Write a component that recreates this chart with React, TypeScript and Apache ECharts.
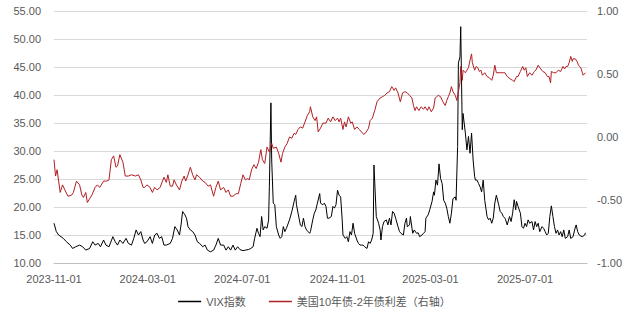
import React, { useEffect, useRef } from "react";
import * as echarts from "echarts";

// ---- data ----
const axisStart = "2023-11-01";
const axisEnd = "2025-09-19";
const xTickLabels = ["2023-11-01", "2024-03-01", "2024-07-01", "2024-11-01", "2025-03-01", "2025-07-01"];
const leftTicks = { min: 10, max: 55, interval: 5 };
const rightTicks = { min: -1, max: 1, interval: 0.5 };
const legendNames = ["VIX指数", "美国10年债-2年债利差（右轴）"];

const vixPoints: [string, number][] = [
  ["2023-11-01",17.1],["2023-11-04",15.6],["2023-11-07",15.0],["2023-11-10",14.7],["2023-11-13",14.4],["2023-11-17",13.8],
  ["2023-11-22",13.2],["2023-11-25",12.6],["2023-11-29",12.9],["2023-12-04",13.2],["2023-12-08",12.9],["2023-12-12",12.3],
  ["2023-12-17",12.6],["2023-12-21",13.8],["2023-12-24",13.2],["2023-12-28",13.5],["2023-12-31",12.9],["2024-01-04",14.1],
  ["2024-01-07",13.2],["2024-01-11",12.9],["2024-01-16",14.7],["2024-01-19",13.8],["2024-01-22",13.2],["2024-01-25",14.1],
  ["2024-01-29",13.5],["2024-02-02",14.4],["2024-02-05",13.5],["2024-02-09",13.2],["2024-02-12",14.4],["2024-02-15",15.9],
  ["2024-02-18",15.0],["2024-02-21",15.6],["2024-02-24",14.1],["2024-02-26",13.5],["2024-02-29",13.8],["2024-03-04",14.7],
  ["2024-03-07",13.5],["2024-03-10",15.0],["2024-03-13",15.3],["2024-03-16",14.4],["2024-03-19",14.7],["2024-03-22",13.2],
  ["2024-03-25",13.2],["2024-03-30",13.5],["2024-04-02",14.4],["2024-04-05",16.5],["2024-04-08",15.9],["2024-04-11",15.0],
  ["2024-04-13",16.8],["2024-04-15",19.2],["2024-04-18",18.6],["2024-04-20",18.0],["2024-04-22",16.5],["2024-04-25",15.9],
  ["2024-04-28",15.6],["2024-05-01",15.0],["2024-05-04",13.8],["2024-05-07",13.5],["2024-05-11",12.9],["2024-05-14",13.2],
  ["2024-05-17",12.3],["2024-05-21",12.0],["2024-05-25",12.3],["2024-05-28",13.2],["2024-05-31",14.4],["2024-06-03",13.2],
  ["2024-06-07",13.2],["2024-06-10",12.3],["2024-06-13",12.9],["2024-06-16",12.3],["2024-06-19",13.2],["2024-06-22",12.3],
  ["2024-06-25",12.9],["2024-06-28",12.4],["2024-07-02",12.2],["2024-07-05",12.3],["2024-07-09",12.4],["2024-07-12",12.6],
  ["2024-07-15",12.9],["2024-07-17",14.4],["2024-07-20",16.2],["2024-07-22",15.3],["2024-07-24",14.7],["2024-07-26",18.3],
  ["2024-07-28",15.9],["2024-07-30",16.5],["2024-08-02",16.2],["2024-08-04",17.7],["2024-08-05",23.6],["2024-08-07",38.6],
  ["2024-08-08",28.4],["2024-08-10",20.7],["2024-08-12",20.4],["2024-08-14",16.5],["2024-08-17",15.0],["2024-08-19",14.4],
  ["2024-08-21",14.7],["2024-08-23",16.5],["2024-08-25",15.6],["2024-08-27",16.2],["2024-08-31",17.7],["2024-09-03",19.2],
  ["2024-09-06",21.0],["2024-09-08",22.1],["2024-09-09",20.4],["2024-09-11",18.9],["2024-09-14",16.8],["2024-09-16",16.5],
  ["2024-09-18",18.0],["2024-09-20",16.5],["2024-09-22",15.9],["2024-09-26",15.3],["2024-09-27",15.6],["2024-09-30",17.7],
  ["2024-10-02",18.9],["2024-10-04",19.5],["2024-10-06",20.7],["2024-10-09",22.4],["2024-10-10",20.7],["2024-10-13",20.4],
  ["2024-10-15",20.7],["2024-10-17",20.1],["2024-10-19",18.0],["2024-10-21",18.0],["2024-10-24",18.3],["2024-10-26",20.1],
  ["2024-10-28",19.8],["2024-10-30",20.4],["2024-11-01",23.0],["2024-11-03",22.1],["2024-11-05",21.8],["2024-11-07",17.7],
  ["2024-11-08",15.0],["2024-11-11",14.4],["2024-11-13",14.7],["2024-11-15",13.8],["2024-11-17",15.6],["2024-11-19",15.0],
  ["2024-11-21",17.1],["2024-11-23",15.3],["2024-11-26",14.1],["2024-11-28",13.5],["2024-11-30",13.2],["2024-12-02",13.2],
  ["2024-12-04",13.2],["2024-12-06",12.9],["2024-12-09",12.6],["2024-12-11",13.8],["2024-12-13",13.5],["2024-12-15",14.1],
  ["2024-12-17",15.3],["2024-12-18",27.5],["2024-12-21",18.3],["2024-12-24",17.1],["2024-12-26",15.9],["2024-12-27",14.1],
  ["2024-12-29",16.5],["2024-12-31",17.4],["2025-01-03",17.7],["2025-01-05",16.8],["2025-01-07",18.0],["2025-01-09",16.8],
  ["2025-01-11",19.2],["2025-01-13",18.9],["2025-01-15",18.0],["2025-01-18",16.5],["2025-01-20",15.6],["2025-01-22",15.3],
  ["2025-01-25",15.0],["2025-01-27",17.1],["2025-01-29",18.0],["2025-01-30",16.5],["2025-02-02",16.8],["2025-02-03",18.3],
  ["2025-02-06",15.3],["2025-02-08",15.9],["2025-02-11",15.3],["2025-02-13",15.4],["2025-02-15",14.7],["2025-02-18",15.0],
  ["2025-02-20",15.3],["2025-02-22",15.6],["2025-02-23",18.0],["2025-02-26",18.6],["2025-02-28",19.5],["2025-03-03",21.0],
  ["2025-03-05",22.7],["2025-03-06",22.1],["2025-03-08",24.8],["2025-03-10",23.9],["2025-03-12",27.7],["2025-03-14",25.1],
  ["2025-03-16",24.2],["2025-03-18",21.2],["2025-03-20",20.7],["2025-03-22",19.8],["2025-03-24",18.3],["2025-03-26",17.1],
  ["2025-03-28",18.9],["2025-03-30",21.5],["2025-04-02",21.8],["2025-04-03",21.2],["2025-04-05",30.8],["2025-04-06",45.7],
  ["2025-04-08",46.8],["2025-04-09",52.2],["2025-04-11",33.8],["2025-04-12",36.7],["2025-04-15",33.2],["2025-04-17",30.2],
  ["2025-04-19",32.6],["2025-04-21",29.6],["2025-04-23",33.2],["2025-04-25",28.4],["2025-04-27",25.4],["2025-04-28",24.8],
  ["2025-04-30",24.8],["2025-05-02",24.2],["2025-05-04",23.6],["2025-05-06",22.7],["2025-05-08",24.8],["2025-05-10",21.2],
  ["2025-05-13",18.3],["2025-05-15",17.7],["2025-05-17",18.0],["2025-05-19",17.1],["2025-05-21",18.0],["2025-05-23",20.7],
  ["2025-05-25",22.1],["2025-05-28",20.4],["2025-05-30",19.2],["2025-06-01",18.9],["2025-06-03",18.3],["2025-06-05",18.0],
  ["2025-06-06",17.7],["2025-06-08",16.8],["2025-06-11",18.3],["2025-06-13",17.4],["2025-06-15",18.9],["2025-06-17",21.3],
  ["2025-06-19",19.5],["2025-06-20",21.0],["2025-06-22",20.1],["2025-06-25",18.9],["2025-06-27",16.5],["2025-06-29",16.2],
  ["2025-07-01",17.1],["2025-07-03",16.5],["2025-07-05",17.7],["2025-07-07",17.1],["2025-07-10",17.4],["2025-07-12",15.9],
  ["2025-07-14",17.4],["2025-07-16",16.5],["2025-07-18",17.1],["2025-07-20",15.6],["2025-07-23",16.5],["2025-07-25",16.2],
  ["2025-07-27",15.6],["2025-07-29",15.0],["2025-07-31",15.3],["2025-08-02",18.3],["2025-08-04",20.2],["2025-08-06",18.3],
  ["2025-08-08",16.5],["2025-08-10",15.3],["2025-08-12",15.9],["2025-08-14",15.0],["2025-08-16",15.6],["2025-08-18",14.7],
  ["2025-08-20",15.9],["2025-08-22",14.4],["2025-08-25",14.7],["2025-08-27",15.9],["2025-08-29",14.4],["2025-09-01",14.7],
  ["2025-09-03",15.9],["2025-09-05",16.8],["2025-09-07",15.6],["2025-09-09",15.0],["2025-09-11",14.8],["2025-09-13",14.7],
  ["2025-09-16",15.0],["2025-09-17",15.4],
];

const spreadPoints: [string, number][] = [
  ["2023-11-01",-0.18],["2023-11-03",-0.31],["2023-11-05",-0.26],["2023-11-09",-0.44],["2023-11-12",-0.38],["2023-11-15",-0.42],
  ["2023-11-19",-0.47],["2023-11-24",-0.46],["2023-11-26",-0.44],["2023-11-30",-0.35],["2023-12-04",-0.38],["2023-12-07",-0.46],
  ["2023-12-09",-0.48],["2023-12-12",-0.44],["2023-12-14",-0.52],["2023-12-17",-0.49],["2023-12-20",-0.46],["2023-12-24",-0.40],
  ["2023-12-27",-0.38],["2023-12-30",-0.40],["2024-01-04",-0.35],["2024-01-08",-0.35],["2024-01-11",-0.34],["2024-01-14",-0.18],
  ["2024-01-17",-0.15],["2024-01-20",-0.24],["2024-01-22",-0.23],["2024-01-25",-0.14],["2024-01-29",-0.20],["2024-02-01",-0.31],
  ["2024-02-05",-0.31],["2024-02-09",-0.30],["2024-02-14",-0.31],["2024-02-18",-0.30],["2024-02-21",-0.34],["2024-02-24",-0.40],
  ["2024-02-26",-0.40],["2024-02-29",-0.38],["2024-03-04",-0.40],["2024-03-07",-0.44],["2024-03-10",-0.40],["2024-03-13",-0.42],
  ["2024-03-17",-0.40],["2024-03-20",-0.35],["2024-03-22",-0.32],["2024-03-25",-0.36],["2024-03-27",-0.30],["2024-03-30",-0.39],
  ["2024-04-02",-0.39],["2024-04-04",-0.34],["2024-04-07",-0.38],["2024-04-11",-0.42],["2024-04-14",-0.35],["2024-04-17",-0.31],
  ["2024-04-19",-0.35],["2024-04-22",-0.30],["2024-04-25",-0.24],["2024-04-28",-0.30],["2024-05-01",-0.34],["2024-05-03",-0.30],
  ["2024-05-07",-0.32],["2024-05-11",-0.35],["2024-05-14",-0.36],["2024-05-18",-0.39],["2024-05-21",-0.38],["2024-05-25",-0.47],
  ["2024-05-28",-0.40],["2024-05-31",-0.35],["2024-06-03",-0.42],["2024-06-07",-0.40],["2024-06-10",-0.44],["2024-06-13",-0.42],
  ["2024-06-16",-0.47],["2024-06-19",-0.47],["2024-06-23",-0.45],["2024-06-26",-0.45],["2024-06-29",-0.37],["2024-07-02",-0.30],
  ["2024-07-05",-0.34],["2024-07-08",-0.33],["2024-07-10",-0.34],["2024-07-13",-0.26],["2024-07-16",-0.22],["2024-07-19",-0.25],
  ["2024-07-22",-0.20],["2024-07-25",-0.10],["2024-07-27",-0.18],["2024-07-30",-0.21],["2024-08-02",-0.08],["2024-08-05",-0.12],
  ["2024-08-08",-0.05],["2024-08-10",-0.09],["2024-08-14",-0.08],["2024-08-17",-0.13],["2024-08-20",-0.20],["2024-08-22",-0.13],
  ["2024-08-25",-0.08],["2024-08-28",-0.05],["2024-08-31",0.00],["2024-09-03",-0.01],["2024-09-06",0.03],["2024-09-08",0.02],
  ["2024-09-11",0.06],["2024-09-14",0.08],["2024-09-17",0.07],["2024-09-20",0.12],["2024-09-23",0.17],["2024-09-26",0.20],
  ["2024-09-27",0.24],["2024-09-30",0.16],["2024-10-03",0.13],["2024-10-05",0.16],["2024-10-07",0.04],["2024-10-10",0.07],
  ["2024-10-13",0.11],["2024-10-17",0.11],["2024-10-20",0.15],["2024-10-23",0.12],["2024-10-26",0.16],["2024-10-29",0.13],
  ["2024-11-01",0.15],["2024-11-03",0.12],["2024-11-05",0.15],["2024-11-08",0.06],["2024-11-10",0.12],["2024-11-12",0.08],
  ["2024-11-15",0.16],["2024-11-18",0.11],["2024-11-20",0.12],["2024-11-23",0.06],["2024-11-26",0.08],["2024-11-29",0.06],
  ["2024-12-02",0.04],["2024-12-05",0.02],["2024-12-08",0.04],["2024-12-11",0.07],["2024-12-13",0.13],["2024-12-16",0.15],
  ["2024-12-19",0.21],["2024-12-22",0.28],["2024-12-26",0.31],["2024-12-29",0.32],["2025-01-01",0.33],["2025-01-04",0.35],
  ["2025-01-07",0.36],["2025-01-10",0.40],["2025-01-13",0.37],["2025-01-15",0.39],["2025-01-18",0.35],["2025-01-21",0.28],
  ["2025-01-24",0.35],["2025-01-27",0.36],["2025-01-30",0.35],["2025-02-02",0.33],["2025-02-05",0.31],["2025-02-07",0.25],
  ["2025-02-09",0.21],["2025-02-11",0.24],["2025-02-14",0.21],["2025-02-17",0.24],["2025-02-20",0.22],["2025-02-22",0.24],
  ["2025-02-25",0.21],["2025-02-27",0.24],["2025-03-02",0.20],["2025-03-05",0.23],["2025-03-07",0.31],["2025-03-09",0.32],
  ["2025-03-11",0.33],["2025-03-14",0.32],["2025-03-17",0.28],["2025-03-20",0.25],["2025-03-22",0.29],["2025-03-24",0.32],
  ["2025-03-26",0.35],["2025-03-28",0.40],["2025-03-30",0.36],["2025-04-02",0.33],["2025-04-04",0.29],["2025-04-06",0.36],
  ["2025-04-08",0.43],["2025-04-09",0.56],["2025-04-11",0.45],["2025-04-12",0.53],["2025-04-15",0.51],["2025-04-17",0.53],
  ["2025-04-19",0.55],["2025-04-21",0.61],["2025-04-23",0.66],["2025-04-24",0.59],["2025-04-27",0.53],["2025-04-29",0.56],
  ["2025-05-01",0.55],["2025-05-03",0.52],["2025-05-05",0.53],["2025-05-07",0.49],["2025-05-10",0.51],["2025-05-13",0.48],
  ["2025-05-16",0.47],["2025-05-19",0.45],["2025-05-21",0.49],["2025-05-23",0.57],["2025-05-25",0.51],["2025-05-30",0.51],
  ["2025-06-03",0.51],["2025-06-05",0.51],["2025-06-08",0.48],["2025-06-12",0.46],["2025-06-15",0.45],["2025-06-17",0.44],
  ["2025-06-20",0.48],["2025-06-22",0.48],["2025-06-25",0.52],["2025-06-28",0.56],["2025-06-30",0.53],["2025-07-02",0.55],
  ["2025-07-04",0.48],["2025-07-07",0.51],["2025-07-10",0.49],["2025-07-13",0.52],["2025-07-15",0.53],["2025-07-18",0.57],
  ["2025-07-20",0.55],["2025-07-24",0.52],["2025-07-27",0.51],["2025-07-30",0.48],["2025-08-01",0.48],["2025-08-03",0.43],
  ["2025-08-04",0.52],["2025-08-07",0.51],["2025-08-10",0.51],["2025-08-13",0.53],["2025-08-16",0.52],["2025-08-19",0.56],
  ["2025-08-21",0.54],["2025-08-23",0.56],["2025-08-25",0.56],["2025-08-27",0.59],["2025-08-29",0.64],["2025-08-31",0.60],
  ["2025-09-01",0.62],["2025-09-04",0.62],["2025-09-06",0.60],["2025-09-08",0.57],["2025-09-11",0.55],["2025-09-13",0.51],
  ["2025-09-14",0.49],["2025-09-17",0.51],
];

// calendar categories for the x axis (one per day)
function buildCalendar(start: string, end: string): string[] {
  const out: string[] = [];
  const s = Date.parse(start + "T00:00:00Z");
  const e = Date.parse(end + "T00:00:00Z");
  for (let t = s; t <= e; t += 86400000) {
    out.push(new Date(t).toISOString().slice(0, 10));
  }
  return out;
}
const categories = buildCalendar(axisStart, axisEnd);

const FONT = '"Liberation Sans", "Noto Sans CJK SC", sans-serif';
const TEXT_COLOR = "#595959";
const VIX_COLOR = "#000000";
const SPREAD_COLOR = "#b01f24";

export default function App() {
  const ref = useRef<HTMLDivElement>(null);

  useEffect(() => {
    document.body.style.margin = "0";
    if (!ref.current) return;
    const chart = echarts.init(ref.current, undefined, { renderer: "svg" });
    chart.setOption({
      animation: false,
      backgroundColor: "#ffffff",
      textStyle: { fontFamily: FONT },
      grid: { left: 54, right: 42, top: 11, bottom: 58, containLabel: false },
      legend: {
        bottom: 9,
        left: "center",
        icon: "rect",
        itemWidth: 23,
        itemHeight: 1.5,
        itemGap: 23,
        textStyle: { color: TEXT_COLOR, fontSize: 11, fontFamily: FONT },
        data: [
          { name: legendNames[0], icon: "rect", itemStyle: { color: VIX_COLOR, borderWidth: 0 } },
          { name: legendNames[1], icon: "rect", itemStyle: { color: SPREAD_COLOR, borderWidth: 0 } },
        ],
      },
      xAxis: {
        type: "category",
        data: categories,
        boundaryGap: false,
        axisLine: { show: true, onZero: false, lineStyle: { color: "#bfbfbf", width: 1 } },
        axisTick: { show: false },
        splitLine: { show: false },
        axisLabel: {
          color: TEXT_COLOR,
          fontSize: 11,
          margin: 10,
          fontFamily: FONT,
          interval: (_i: number, v: string) => xTickLabels.includes(v),
          hideOverlap: false,
        },
      },
      yAxis: [
        {
          type: "value",
          min: leftTicks.min,
          max: leftTicks.max,
          interval: leftTicks.interval,
          position: "left",
          axisLine: { show: false },
          axisTick: { show: false },
          splitLine: { show: true, lineStyle: { color: "#d9d9d9", width: 1 } },
          axisLabel: {
            color: TEXT_COLOR,
            fontSize: 11,
            margin: 13,
            fontFamily: FONT,
            formatter: (v: number) => v.toFixed(2),
          },
        },
        {
          type: "value",
          min: rightTicks.min,
          max: rightTicks.max,
          interval: rightTicks.interval,
          position: "right",
          axisLine: { show: false },
          axisTick: { show: false },
          splitLine: { show: false },
          axisLabel: {
            color: TEXT_COLOR,
            fontSize: 11,
            margin: 10,
            fontFamily: FONT,
            formatter: (v: number) => v.toFixed(2),
          },
        },
      ],
      series: [
        {
          name: legendNames[0],
          type: "line",
          yAxisIndex: 0,
          data: vixPoints,
          symbol: "none",
          showSymbol: false,
          lineStyle: { color: VIX_COLOR, width: 1 },
          itemStyle: { color: VIX_COLOR },
          z: 2,
        },
        {
          name: legendNames[1],
          type: "line",
          yAxisIndex: 1,
          data: spreadPoints,
          symbol: "none",
          showSymbol: false,
          lineStyle: { color: SPREAD_COLOR, width: 1 },
          itemStyle: { color: SPREAD_COLOR },
          z: 3,
        },
      ],
    });
    return () => chart.dispose();
  }, []);

  return <div ref={ref} style={{ width: 629, height: 321 }} />;
}
